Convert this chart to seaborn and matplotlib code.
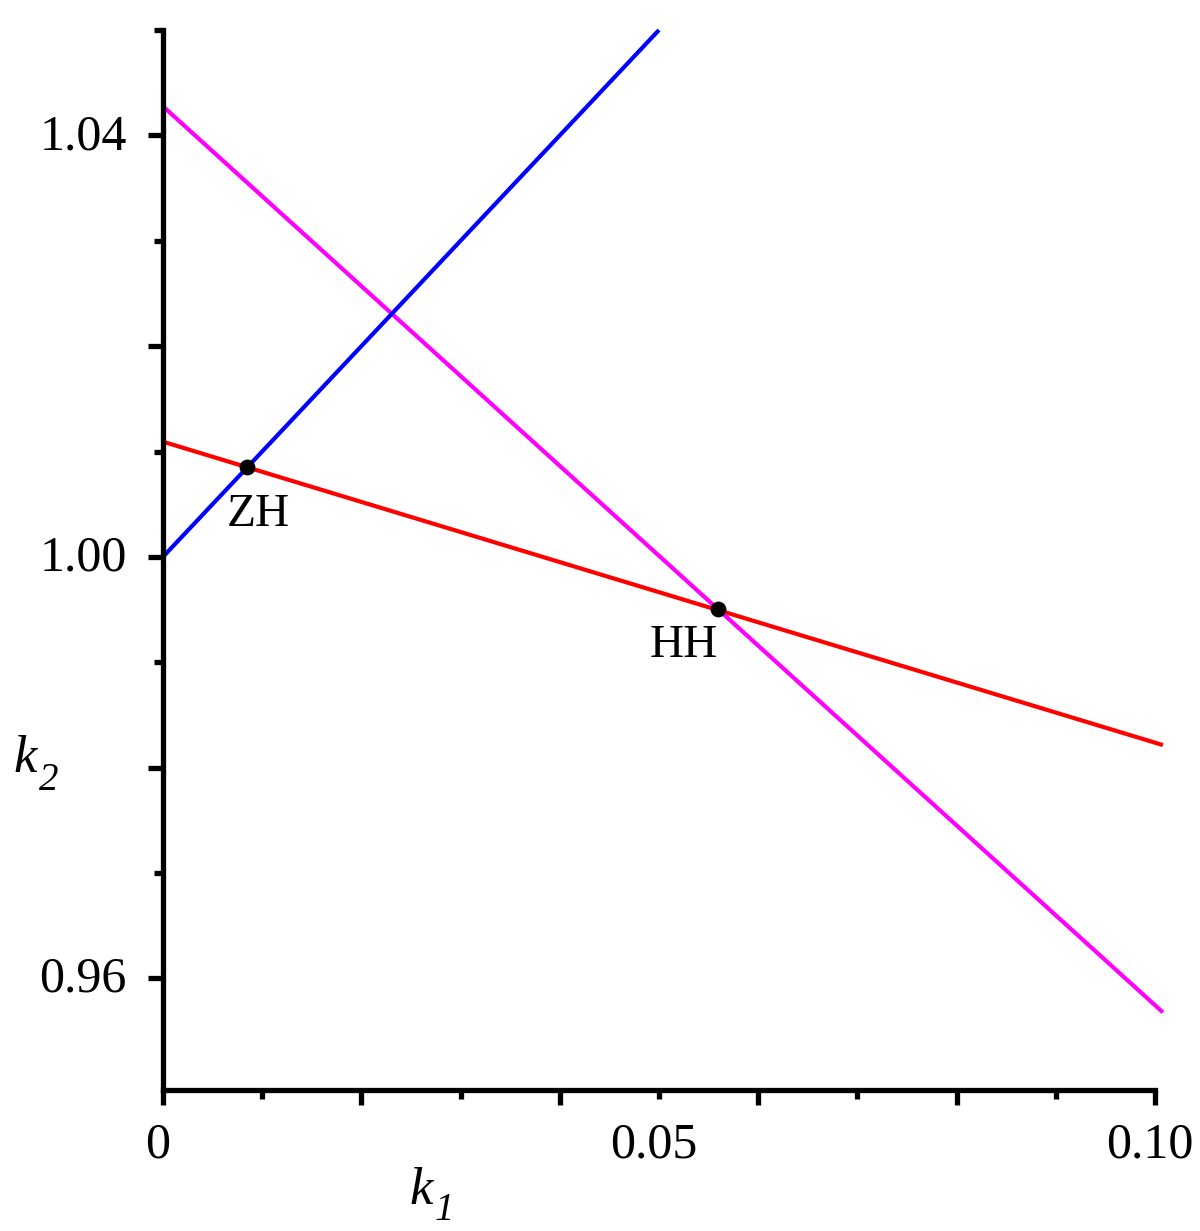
import matplotlib
matplotlib.use("Agg")
import matplotlib.pyplot as plt
import seaborn as sns
import pandas as pd
from matplotlib.ticker import FixedLocator

# ---- data ----
red_k1 = [0.0, 0.1008]
red_k2 = [1.01093, 0.98214]
magenta_k1 = [0.0, 0.1008]
magenta_k2 = [1.04276, 0.95677]
blue_k1 = [0.0, 0.05]
blue_k2 = [1.00, 1.05]

point_names = ["ZH", "HH"]
point_k1 = [0.00847, 0.05595]
point_k2 = [1.00851, 0.99503]

x_tick_labels = ["0", "0.05", "0.10"]
x_tick_values = [0.0, 0.05, 0.10]
y_tick_labels = ["0.96", "1.00", "1.04"]
y_tick_values = [0.96, 1.00, 1.04]

sns.set_theme(style="ticks")
plt.rcParams["font.family"] = ["Liberation Serif", "DejaVu Serif"]
plt.rcParams["text.color"] = "black"

df = pd.concat([
    pd.DataFrame({"k1": red_k1, "k2": red_k2, "curve": "red"}),
    pd.DataFrame({"k1": magenta_k1, "k2": magenta_k2, "curve": "magenta"}),
    pd.DataFrame({"k1": blue_k1, "k2": blue_k2, "curve": "blue"}),
], ignore_index=True)
palette = {"red": "#ff0000", "magenta": "#ff00ff", "blue": "#0000ff"}

fig = plt.figure(figsize=(12, 12.31), dpi=100)
ax = fig.add_axes([0.1358, 0.1145, 0.9625 - 0.1358, 0.9756 - 0.1145])

sns.lineplot(data=df, x="k1", y="k2", hue="curve", palette=palette,
             linewidth=3.0, legend=False, ax=ax, sort=False, estimator=None)
for ln in ax.lines:
    ln.set_clip_on(False)
    ln.set_solid_capstyle("butt")

pts = pd.DataFrame({"k1": point_k1, "k2": point_k2, "name": point_names})
sns.scatterplot(data=pts, x="k1", y="k2", color="black", s=130,
                edgecolor="black", linewidth=0, ax=ax, zorder=5, clip_on=False)

offsets = {"ZH": (8, -34), "HH": (-24.5, -26)}
for name, x, y in zip(point_names, point_k1, point_k2):
    ax.annotate(name, (x, y), xytext=offsets[name], textcoords="offset points",
                ha="center", va="center", fontsize=34, color="black")

ax.set_xlim(0, 0.1)
ax.set_ylim(0.9494, 1.05)

sns.despine(ax=ax)
for side in ["left", "bottom"]:
    ax.spines[side].set_linewidth(3.8)
    ax.spines[side].set_color("black")

ax.xaxis.set_major_locator(FixedLocator([0.0, 0.02, 0.04, 0.06, 0.08, 0.10]))
ax.xaxis.set_minor_locator(FixedLocator([0.01, 0.03, 0.05, 0.07, 0.09]))
ax.yaxis.set_major_locator(FixedLocator([0.96, 0.98, 1.00, 1.02, 1.04]))
ax.yaxis.set_minor_locator(FixedLocator([0.97, 0.99, 1.01, 1.03, 1.05]))
ax.set_xticklabels([])
ax.set_yticklabels([])
ax.tick_params(which="major", length=11, width=3.8, color="black", direction="out")
ax.tick_params(which="minor", length=6.5, width=3.8, color="black", direction="out")

# labels placed at selected positions
for v, lab in zip(x_tick_values, x_tick_labels):
    ax.annotate(lab, (v, 0), xycoords=("data", "axes fraction"), xytext=(-4, -40),
                textcoords="offset points", ha="center", va="center", fontsize=36,
                color="black")
for v, lab in zip(y_tick_values, y_tick_labels):
    ax.annotate(lab, (0, v), xycoords=("axes fraction", "data"), xytext=(-26, -1),
                textcoords="offset points", ha="right", va="center", fontsize=36,
                color="black")

ax.set_xlabel("")
ax.set_ylabel("")
# axis titles k_1 and k_2 (italic k with italic subscript digits)
fig.text(433 / 1200, 1 - 1191 / 1231, "k", fontsize=38, style="italic",
         ha="right", va="center", color="black")
fig.text(435 / 1200, 1 - 1211 / 1231, "1", fontsize=28, style="italic",
         ha="left", va="center", color="black")
fig.text(37 / 1200, 1 - 759 / 1231, "k", fontsize=38, style="italic",
         ha="right", va="center", color="black")
fig.text(39 / 1200, 1 - 781 / 1231, "2", fontsize=28, style="italic",
         ha="left", va="center", color="black")

fig.savefig("out.png", dpi=100, facecolor="white")
